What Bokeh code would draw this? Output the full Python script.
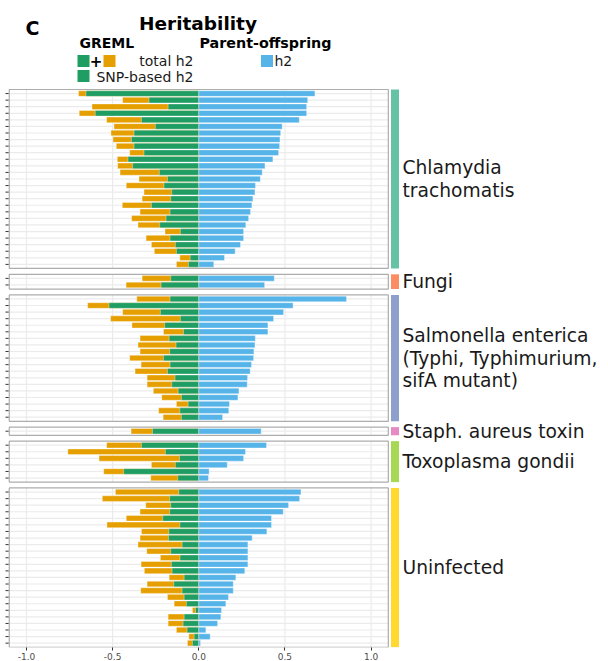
from bokeh.plotting import figure
from bokeh.models import Range1d, FixedTicker, NumeralTickFormatter
from bokeh.embed import file_html
from bokeh.resources import INLINE
from bokeh.core.properties import value

# ---------------- data ----------------
GROUP_LABELS = ["Chlamydia\ntrachomatis", "Fungi",
                "Salmonella enterica\n(Typhi, Typhimurium,\nsifA mutant)",
                "Staph. aureus toxin", "Toxoplasma gondii", "Uninfected"]
STRIP_COLORS = ["#66C2A5", "#FC8D62", "#8DA0CB", "#E78AC3", "#A6D854", "#FFD92F"]

# GREML total h2, GREML SNP-based h2, parent-offspring h2 (one entry per trait)
CHL_TOTAL = [0.698, 0.442, 0.620, 0.694, 0.535, 0.492, 0.510, 0.498, 0.479, 0.401,
             0.473, 0.471, 0.457, 0.347, 0.421, 0.318, 0.329, 0.444, 0.341, 0.390,
             0.353, 0.196, 0.306, 0.275, 0.258, 0.110, 0.130]
CHL_SNP = [0.655, 0.289, 0.178, 0.601, 0.333, 0.252, 0.376, 0.391, 0.376, 0.318,
           0.411, 0.384, 0.229, 0.182, 0.202, 0.157, 0.163, 0.275, 0.167, 0.190,
           0.227, 0.107, 0.167, 0.136, 0.130, 0.050, 0.060]
CHL_PO = [0.674, 0.632, 0.626, 0.626, 0.583, 0.484, 0.475, 0.471, 0.469, 0.463,
          0.430, 0.384, 0.368, 0.357, 0.329, 0.326, 0.314, 0.308, 0.300, 0.289,
          0.273, 0.260, 0.260, 0.242, 0.211, 0.149, 0.087]

FUN_TOTAL = [0.329, 0.422]
FUN_SNP = [0.163, 0.219]
FUN_PO = [0.438, 0.382]

SAL_TOTAL = [0.360, 0.645, 0.442, 0.512, 0.388, 0.205, 0.341, 0.353, 0.341, 0.401,
             0.335, 0.370, 0.300, 0.300, 0.264, 0.215, 0.130, 0.233, 0.207]
SAL_SNP = [0.167, 0.521, 0.223, 0.107, 0.198, 0.089, 0.172, 0.132, 0.169, 0.205,
           0.167, 0.182, 0.138, 0.157, 0.120, 0.101, 0.062, 0.110, 0.101]
SAL_PO = [0.857, 0.547, 0.492, 0.434, 0.401, 0.401, 0.328, 0.326, 0.320, 0.318,
          0.306, 0.298, 0.283, 0.281, 0.233, 0.227, 0.178, 0.174, 0.138]

STA_TOTAL = [0.393]
STA_SNP = [0.269]
STA_PO = [0.362]

TOX_TOTAL = [0.535, 0.760, 0.579, 0.275, 0.552, 0.279]
TOX_SNP = [0.333, 0.194, 0.112, 0.136, 0.436, 0.122]
TOX_PO = [0.393, 0.271, 0.260, 0.165, 0.060, 0.056]

UNI_TOTAL = [0.484, 0.560, 0.308, 0.341, 0.421, 0.533, 0.333, 0.341, 0.353, 0.302,
             0.223, 0.335, 0.316, 0.172, 0.300, 0.337, 0.182, 0.143, 0.037, 0.178,
             0.178, 0.130, 0.058, 0.066]
UNI_SNP = [0.116, 0.169, 0.163, 0.169, 0.209, 0.110, 0.174, 0.176, 0.097, 0.163,
           0.109, 0.159, 0.155, 0.085, 0.145, 0.097, 0.085, 0.072, 0.019, 0.085,
           0.091, 0.068, 0.027, 0.037]
UNI_PO = [0.593, 0.585, 0.521, 0.490, 0.422, 0.422, 0.395, 0.310, 0.285, 0.285,
          0.285, 0.285, 0.267, 0.215, 0.200, 0.200, 0.172, 0.157, 0.132, 0.128,
          0.109, 0.041, 0.066, 0.010]

TOTALS = [CHL_TOTAL, FUN_TOTAL, SAL_TOTAL, STA_TOTAL, TOX_TOTAL, UNI_TOTAL]
SNPS = [CHL_SNP, FUN_SNP, SAL_SNP, STA_SNP, TOX_SNP, UNI_SNP]
POS = [CHL_PO, FUN_PO, SAL_PO, STA_PO, TOX_PO, UNI_PO]

X_TICKS = [-1.0, -0.5, 0.0, 0.5, 1.0]

# ---------------- styling / layout ----------------
ORANGE = "#E69F00"
GREEN = "#1F9D62"
BLUE = "#56B4E9"
GRID = "#EBEBEB"
BORDER = "#ADADAD"
FONT = "DejaVu Sans"

PAD = 0.12       # space inside each panel above/below rows
GAP = 0.89       # space between panels
BAR_H = 0.85
XLIM = 1.1
RPX = 6.57       # pixels per row
XPX = 172.3      # pixels per x unit
ZERO_PX = 198.3
FRAME_W = 608
FRAME_H = 647
PANEL_TOP_PX = 89

x_start = -ZERO_PX / XPX
x_end = x_start + FRAME_W / XPX
y_top = -PANEL_TOP_PX / RPX
y_bottom = (FRAME_H - PANEL_TOP_PX) / RPX

p = figure(frame_width=FRAME_W, frame_height=FRAME_H,
           x_range=Range1d(x_start, x_end), y_range=Range1d(y_bottom, y_top),
           output_backend="svg", toolbar_location=None,
           min_border_left=0, min_border_right=0, min_border_top=0,
           min_border_bottom=14)
p.extra_x_ranges = {"px": Range1d(0, FRAME_W)}
p.extra_y_ranges = {"px": Range1d(FRAME_H, 0)}
p.outline_line_color = None
p.background_fill_color = "white"
p.border_fill_color = "white"
p.xgrid.visible = False
p.ygrid.visible = False
p.yaxis.visible = False

# build positions
row_y, tot, snp, po = [], [], [], []
panels = []
cur = 0.0
for g in range(len(GROUP_LABELS)):
    n = len(TOTALS[g])
    for i in range(n):
        row_y.append(cur + PAD + 0.5 + i)
    tot += TOTALS[g]
    snp += SNPS[g]
    po += POS[g]
    panels.append((cur, cur + n + 2 * PAD))
    cur += n + 2 * PAD + GAP

# grid lines inside panels
p.segment(x0=[-XLIM] * len(row_y), x1=[XLIM] * len(row_y), y0=row_y, y1=row_y,
          line_color=GRID, line_width=1.2)
vx0, vy0, vy1 = [], [], []
for (t, b) in panels:
    for xt in X_TICKS:
        vx0.append(xt)
        vy0.append(t)
        vy1.append(b)
p.segment(x0=vx0, x1=vx0, y0=vy0, y1=vy1, line_color=GRID, line_width=1.2)

# row tick marks on the left
p.segment(x0=[5] * len(row_y), x1=[8.3] * len(row_y), y0=row_y, y1=row_y,
          line_color="#333333", line_width=1, x_range_name="px")

# bars
neg_tot = [-v for v in tot]
neg_snp = [-v for v in snp]
zeros = [0] * len(row_y)
p.hbar(y=row_y, left=neg_tot, right=zeros, height=BAR_H, fill_color=ORANGE,
       line_color="white", line_width=0.6, line_alpha=0.6)
p.hbar(y=row_y, left=neg_snp, right=zeros, height=BAR_H, fill_color=GREEN,
       line_color="white", line_width=0.6, line_alpha=0.6)
p.hbar(y=row_y, left=zeros, right=po, height=BAR_H, fill_color=BLUE,
       line_color="white", line_width=0.6, line_alpha=0.6)

# panel borders
pc = [(t + b) / 2 for (t, b) in panels]
ph = [b - t for (t, b) in panels]
p.rect(x=[0] * len(panels), y=pc, width=2 * XLIM, height=ph, fill_color=None,
       line_color=BORDER, line_width=1.2)

# strips
S0, S1 = 1.1155, 1.162
p.rect(x=[(S0 + S1) / 2] * len(panels), y=pc, width=S1 - S0, height=ph,
       fill_color=STRIP_COLORS, line_color=None)
p.text(x=[1.182] * len(panels), y=pc, text=GROUP_LABELS, text_font=value(FONT),
       text_font_size="18.7px", text_baseline="middle", text_align="left",
       text_color="#1A1A1A", text_line_height=1.08)

# axes
p.xaxis.ticker = FixedTicker(ticks=X_TICKS)
p.xaxis.formatter = NumeralTickFormatter(format="0.0")
p.xaxis.axis_line_color = None
p.xaxis.major_tick_line_color = "#333333"
p.xaxis.major_tick_out = 3
p.xaxis.major_tick_in = 0
p.xaxis.minor_tick_line_color = None
p.xaxis.major_label_standoff = 2
p.xaxis.major_label_text_font = FONT
p.xaxis.major_label_text_font_size = "9px"
p.xaxis.major_label_text_color = "#4D4D4D"

# header (pixel coordinates; y = baseline)
def hdr_text(x, y, s, size, bold=False, align="left", color="black"):
    p.text(x=[x], y=[y - 0.36 * size], text=[s], text_font=value(FONT),
           text_font_size=f"{size}px",
           text_font_style="bold" if bold else "normal", text_align=align,
           text_baseline="alphabetic", text_color=color,
           x_range_name="px", y_range_name="px")

hdr_text(25, 34, "C", 19, bold=True)
hdr_text(197.5, 29.5, "Heritability", 18.5, bold=True, align="center")
hdr_text(79, 47.5, "GREML", 14, bold=True)
hdr_text(199, 47.5, "Parent-offspring", 14.3, bold=True)
hdr_text(95.5, 66, "+", 15, bold=True, align="center")
hdr_text(193, 65.5, "total h2", 14, align="right", color="#1A1A1A")
hdr_text(274, 65.5, "h2", 14, color="#1A1A1A")
hdr_text(193, 81.5, "SNP-based h2", 14, align="right", color="#1A1A1A")
p.rect(x=[83, 109, 266.5, 83], y=[60.5, 60.5, 60.5, 75.5], width=12, height=12,
       fill_color=[GREEN, ORANGE, BLUE, GREEN], line_color=None,
       x_range_name="px", y_range_name="px")

open("out.html", "w").write(file_html(p, INLINE))
